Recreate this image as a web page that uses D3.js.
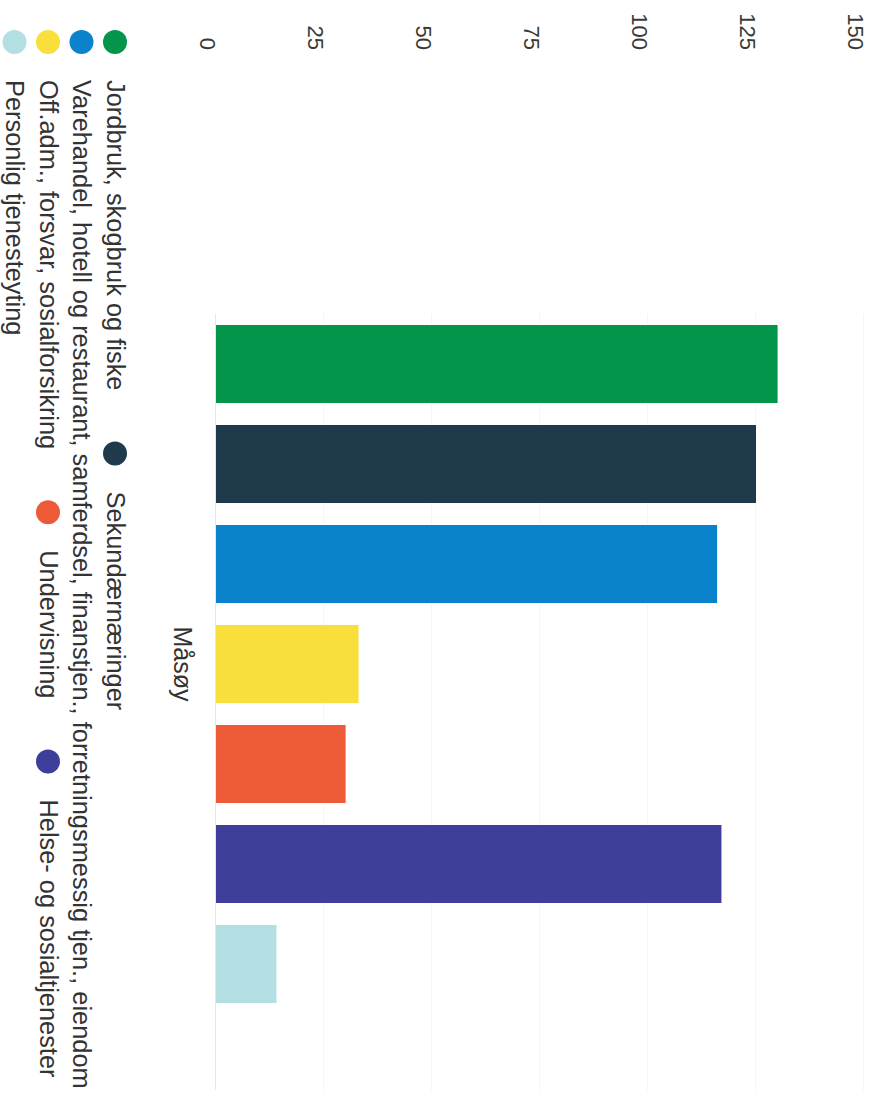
<!DOCTYPE html>
<html>
<head>
<meta charset="utf-8">
<script src="https://cdn.jsdelivr.net/npm/d3@7"></script>
<style>
  html, body { margin: 0; padding: 0; background: #ffffff; }
  svg { display: block; font-family: "Liberation Sans", Arial, sans-serif; }
</style>
</head>
<body>
<script>
// ---- data ----
const categories = ["Måsøy"];
const seriesNames = [
  "Jordbruk, skogbruk og fiske",
  "Sekundærnæringer",
  "Varehandel, hotell og restaurant, samferdsel, finanstjen., forretningsmessig tjen., eiendom",
  "Off.adm., forsvar, sosialforsikring",
  "Undervisning",
  "Helse- og sosialtjenester",
  "Personlig tjenesteyting"
];
const seriesValues = [130, 125, 116, 33, 30, 117, 14];
const seriesColors = ["#03964b", "#1e3a4b", "#0a83cc", "#f8df3c", "#ec5a37", "#3e3f9b", "#b3dfe3"];
const tickValues = [0, 25, 50, 75, 100, 125, 150];

// ---- layout (chart is drawn upright, then rotated 90° clockwise) ----
const W = 890, H = 1098;
const svg = d3.select("body").append("svg").attr("width", W).attr("height", H);
svg.append("rect").attr("width", W).attr("height", H).attr("fill", "#ffffff");

const g = svg.append("g").attr("transform", `translate(${W},0) rotate(90)`);

const plotLeft = 314, plotRight = 1090;
const x0 = d3.scaleBand().domain(categories).range([plotLeft, 1014]);
const x1 = d3.scaleBand().domain(seriesNames).range([0, x0.bandwidth()])
  .paddingInner(0.22).paddingOuter(0.11);
const y = d3.scaleLinear().domain([0, 150]).range([674, 26]);

// gridlines
const grid = g.append("g").attr("transform", `translate(${plotLeft},0)`)
  .call(d3.axisLeft(y).tickValues(tickValues).tickSize(-(plotRight - plotLeft)).tickFormat(""));
grid.select(".domain").remove();
grid.selectAll("line").attr("stroke", d => d === 0 ? "#e6e6e6" : "#f5f5f5").attr("stroke-width", 1);

// value axis labels
const yAx = g.append("g").attr("transform", "translate(50,0)")
  .call(d3.axisLeft(y).tickValues(tickValues).tickSize(0).tickPadding(0));
yAx.select(".domain").remove();
yAx.selectAll("text")
  .attr("font-size", 22)
  .attr("font-family", "Liberation Sans, Arial, sans-serif")
  .attr("fill", "#3a3a3a")
  .attr("y", 8);

// bars
g.append("g").selectAll("rect")
  .data(seriesValues)
  .join("rect")
  .attr("x", (d, i) => x0(categories[0]) + x1(seriesNames[i]))
  .attr("y", d => y(d))
  .attr("width", x1.bandwidth())
  .attr("height", d => y(0) - y(d))
  .attr("fill", (d, i) => seriesColors[i]);

// category axis
const xAx = g.append("g").attr("transform", `translate(0,${y(0)})`)
  .call(d3.axisBottom(x0).tickSize(0).tickPadding(24));
xAx.select(".domain").remove();
xAx.selectAll("text")
  .attr("font-size", 25)
  .attr("font-family", "Liberation Sans, Arial, sans-serif")
  .attr("fill", "#333333");

// legend (flow layout)
const legend = g.append("g");
const fontSize = 25.4;
const rowTop = 775, rowStep = 33.5, maxU = 1098;
let cx = 42, row = 0;
seriesNames.forEach((name, i) => {
  const item = legend.append("g");
  const t = item.append("text")
    .attr("font-size", fontSize)
    .attr("fill", "#333333")
    .text(name);
  const tw = t.node().getComputedTextLength();
  if (i > 0 && cx + 38 + tw > maxU) { row += 1; cx = 42; }
  const cy = rowTop + row * rowStep;
  item.append("circle").attr("cx", cx).attr("cy", cy).attr("r", 12).attr("fill", seriesColors[i]);
  t.attr("x", cx + 38).attr("y", cy + 8.5);
  cx = cx + 38 + tw + 63;
});
</script>
</body>
</html>
